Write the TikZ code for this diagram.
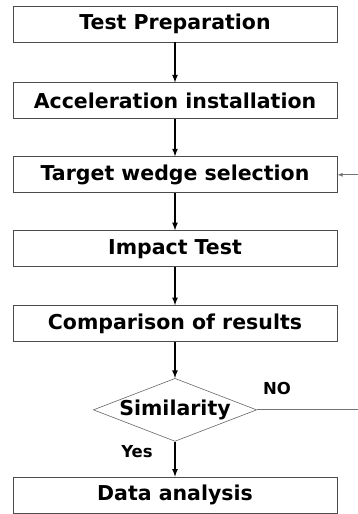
\documentclass[tikz,border=0pt]{standalone}
\usepackage{fontspec}
\setmainfont{DejaVu Sans}
\usetikzlibrary{shapes,arrows,calc,positioning,backgrounds}

\begin{document}
\begin{tikzpicture}[
    x=1pt, y=1pt,
    stepbox/.style={rectangle, draw=black!70, line width=0.9pt, minimum width=324pt, minimum height=36pt, inner sep=0pt, font=\bfseries\fontsize{20.5pt}{22pt}\selectfont},
    decision/.style={diamond, draw=black!60, line width=0.6pt, aspect=2.6, minimum width=163pt, minimum height=63pt, inner sep=0pt, font=\bfseries\fontsize{20.5pt}{22pt}\selectfont},
    flow/.style={-latex, line width=1.6pt, black},
    back/.style={-latex, line width=0.8pt, black!55},
    answer/.style={font=\bfseries\fontsize{16.5pt}{18pt}\selectfont}
  ]
  \useasboundingbox (0,0) rectangle (357,-514);

  \node[stepbox] (prep) at (175,-24) {Test Preparation};
  \node[stepbox, below = 40pt of prep] (accel) {Acceleration installation};
  \node[stepbox, below = 37pt of accel] (wedge) {Target wedge selection};
  \node[stepbox, below = 37pt of wedge] (impact) {Impact Test};
  \node[stepbox, below = 38pt of impact] (compare) {Comparison of results};
  \node[decision, below = 36pt of compare] (sim) {Similarity};
  \node[stepbox, below = 35pt of sim] (data) {Data analysis};

  \node[answer] (no) at (277,-388) {NO};
  \node[answer] (yes) at (137,-452) {Yes};

  \path (sim.east) ++(104,0) coordinate (turn);

  \draw[flow] (prep) -- (accel);
  \draw[flow] (accel) -- (wedge);
  \draw[flow] (wedge) -- (impact);
  \draw[flow] (impact) -- (compare);
  \draw[flow] (compare) -- (sim);
  \draw[flow] (sim) -- (data);

  \draw[back] (sim.east) -- (turn) |- (wedge.east);

\end{tikzpicture}
\end{document}
